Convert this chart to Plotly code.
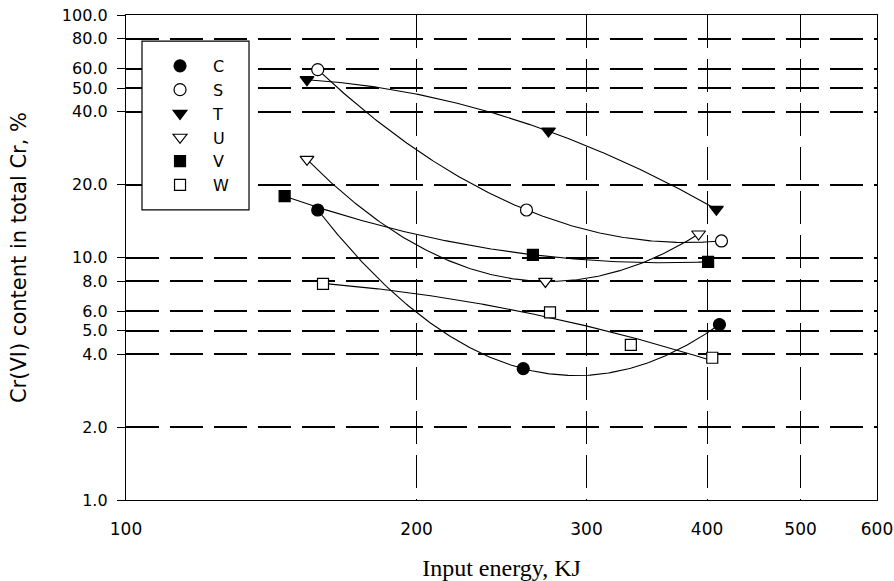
import numpy as np
import plotly.graph_objects as go

# Data
series_names = ["C", "S", "T", "U", "V", "W"]
energy_C = [158, 258, 412]
cr6_C = [15.7, 3.48, 5.29]
energy_S = [158, 260, 414]
cr6_S = [59.5, 15.7, 11.7]
energy_T = [154, 274, 409]
cr6_T = [54.1, 33.2, 15.8]
energy_U = [154, 272, 392]
cr6_U = [25.4, 7.97, 12.5]
energy_V = [146, 264, 401]
cr6_V = [17.9, 10.26, 9.6]
energy_W = [160, 275, 333.5, 405]
cr6_W = [7.78, 5.94, 4.36, 3.86]

x_ticks = [100, 200, 300, 400, 500, 600]
y_ticks = [1, 2, 4, 5, 6, 8, 10, 20, 40, 50, 60, 80, 100]

data = {
    "C": (energy_C, cr6_C),
    "S": (energy_S, cr6_S),
    "T": (energy_T, cr6_T),
    "U": (energy_U, cr6_U),
    "V": (energy_V, cr6_V),
    "W": (energy_W, cr6_W),
}
styles = {
    "C": dict(symbol="circle", color="black", size=12),
    "S": dict(symbol="circle", color="white", size=12),
    "T": dict(symbol="triangle-down", color="black", size=12),
    "U": dict(symbol="triangle-down", color="white", size=12),
    "V": dict(symbol="square", color="black", size=11),
    "W": dict(symbol="square", color="white", size=11),
}

fig = go.Figure()

# Trend curves: 2nd-order polynomial fit in log-log space
for name in series_names:
    xs, ys = data[name]
    lx = np.log10(xs)
    ly = np.log10(ys)
    coef = np.polyfit(lx, ly, 2)
    u = np.linspace(lx.min(), lx.max(), 200)
    fig.add_trace(go.Scatter(
        x=10 ** u, y=10 ** np.polyval(coef, u), mode="lines",
        line=dict(color="black", width=1.1), showlegend=False, hoverinfo="skip"))

for name in series_names:
    xs, ys = data[name]
    st = styles[name]
    fig.add_trace(go.Scatter(
        x=xs, y=ys, mode="markers", name=name, legendgroup=name,
        marker=dict(symbol=st["symbol"], color=st["color"], size=st["size"],
                    line=dict(color="black", width=1.2))))

# legend frame (white box hiding the grid behind the legend)
fig.add_shape(type="rect", xref="paper", yref="paper",
              x0=0.0213, x1=0.1638, y0=0.598, y1=0.946,
              fillcolor="white", line=dict(color="black", width=1.2), layer="above")

fig.update_layout(
    width=894, height=581,
    margin=dict(l=126, r=17, t=15, b=81),
    paper_bgcolor="white", plot_bgcolor="white",
    font=dict(family="DejaVu Sans, Arial, sans-serif", color="black", size=16),
    legend=dict(
        x=0.028, y=0.930, xanchor="left", yanchor="top",
        borderwidth=0, bgcolor="rgba(0,0,0,0)",
        font=dict(size=16), itemwidth=56, tracegroupgap=0,
    ),
    xaxis=dict(
        type="log", range=[np.log10(100), np.log10(600)], automargin=False,
        tickvals=x_ticks, ticktext=[str(v) for v in x_ticks],
        tickfont=dict(size=17),
        showgrid=True, gridcolor="black", gridwidth=1.3, griddash="33px,11px",
        showline=True, linecolor="black", linewidth=1.3, mirror=True,
        ticks="", ticklabelstandoff=13, zeroline=False,
        title=dict(text="Input energy, KJ",
                   font=dict(family="Liberation Serif, Times New Roman, serif", size=24),
                   standoff=22),
    ),
    yaxis=dict(
        type="log", range=[0, 2], automargin=False,
        tickvals=y_ticks, ticktext=[f"{v:.1f}" for v in y_ticks],
        tickfont=dict(size=16),
        showgrid=True, gridcolor="black", gridwidth=1.5, griddash="33px,11px",
        showline=True, linecolor="black", linewidth=1.3, mirror=True,
        ticks="outside", ticklen=8, tickcolor="black", ticklabelstandoff=6,
        zeroline=False,
        title=dict(text="Cr(VI) content in total Cr, %", font=dict(size=21), standoff=29),
    ),
)

fig.write_html("out.html", config={"displayModeBar": False},
               post_script="document.body.style.margin='0';")
